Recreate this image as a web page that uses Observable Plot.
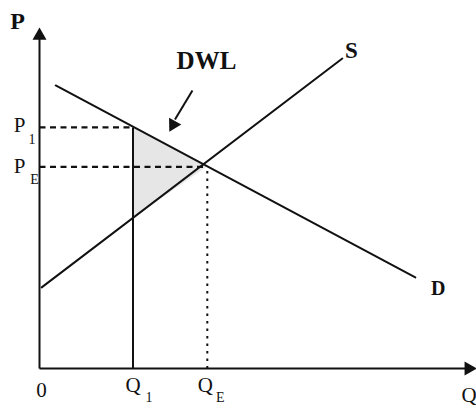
<!DOCTYPE html>
<html><head><meta charset="utf-8">
<script src="https://cdn.jsdelivr.net/npm/d3@7"></script>
<script src="https://cdn.jsdelivr.net/npm/@observablehq/plot@0.6"></script>
<style>body{margin:0;background:#fff} #chart svg{display:block}</style>
</head><body><div id="chart"></div>
<script>
// Curves (quantity q, price p)
const supply = [{q: 0.5, p: 23.8}, {q: 69.3, p: 90.9}];
const demand = [{q: 3.7, p: 83.0}, {q: 86.0, p: 26.7}];
// Key levels
const Q1 = 21.4, QE = 38.4;
const P1 = 70.7, PE = 59.1, PS1 = 44.0;
// Dead-weight-loss triangle (as area between bounds)
const dwlArea = [{q: Q1, lo: PS1, hi: P1}, {q: QE, lo: PE, hi: PE}];
// Axes
const axes = [{q1: 0, p1: 0, q2: 0, p2: 97}, {q1: 0, p1: 0, q2: 98.5, p2: 0}];
const axisHeads = [{q: 0, p: 97.6, rot: 0}, {q: 98.2, p: 0, rot: 90}];
// DWL pointer
const pointer = [{q1: 35.0, p1: 81.5, q2: 31.0, p2: 73.0}];
const pointerHead = [{q: 30.6, p: 71.5, rot: 208.8}];
// Guide lines
const dashedH = [{q1: 0, q2: Q1, p: P1}, {q1: 0, q2: QE, p: PE}];
const solidV = [{q: Q1, p1: 0, p2: P1}];
const dottedV = [{q: QE, p1: 0, p2: PE}];
// Labels
const mainLabels = [
  {q: 0, p: P1, t: "P", dx: -20, dy: -2},
  {q: 0, p: PE, t: "P", dx: -20, dy: -1},
  {q: 0, p: 0, t: "0", dx: 2, dy: 22},
  {q: Q1, p: 0, t: "Q", dx: 0, dy: 17},
  {q: QE, p: 0, t: "Q", dx: -2, dy: 17}
];
const subLabels = [
  {q: 0, p: P1, t: "1", dx: -7.5, dy: 12},
  {q: 0, p: PE, t: "E", dx: -5, dy: 13},
  {q: Q1, p: 0, t: "1", dx: 16, dy: 29},
  {q: QE, p: 0, t: "E", dx: 13, dy: 29}
];
const boldLabels = [
  {q: 0, p: 100, t: "P", dx: -22, dy: -6, size: 24},
  {q: 69.3, p: 90.9, t: "S", dx: 9, dy: -8, size: 23},
  {q: 86.0, p: 26.7, t: "D", dx: 23, dy: 11, size: 20},
  {q: 38.2, p: 90.3, t: "DWL", dx: 0, dy: 0, size: 25}
];
const endLabel = [{q: 100, p: 0, t: "Q", dx: -15, dy: 27}];

const font = "Liberation Serif, Times New Roman, serif";
const ink = "#111";

const textMarks = (arr, opts) => arr.map(d =>
  Plot.text([d], {x: "q", y: "p", text: "t", dx: d.dx, dy: d.dy, fill: ink, fontFamily: font,
    ...opts, ...(d.size ? {fontSize: d.size} : {})}));

const chart = Plot.plot({
  width: 476, height: 405,
  marginLeft: 39, marginRight: 0, marginTop: 27, marginBottom: 37,
  x: {domain: [0, 100], axis: null},
  y: {domain: [0, 100], axis: null},
  style: {fontFamily: font, background: "#fff"},
  marks: [
    Plot.areaY(dwlArea, {x: "q", y1: "lo", y2: "hi", fill: "#e6e6e6"}),
    Plot.link(dashedH, {x1: "q1", x2: "q2", y1: "p", y2: "p", stroke: ink, strokeWidth: 2.2, strokeDasharray: "6,4.5"}),
    Plot.link(dottedV, {x1: "q", x2: "q", y1: "p1", y2: "p2", stroke: ink, strokeWidth: 2, strokeDasharray: "2.5,5"}),
    Plot.link(solidV, {x1: "q", x2: "q", y1: "p1", y2: "p2", stroke: ink, strokeWidth: 2}),
    Plot.line(supply, {x: "q", y: "p", stroke: ink, strokeWidth: 2}),
    Plot.line(demand, {x: "q", y: "p", stroke: ink, strokeWidth: 2}),
    Plot.link(axes, {x1: "q1", y1: "p1", x2: "q2", y2: "p2", stroke: ink, strokeWidth: 2}),
    Plot.dot(axisHeads, {x: "q", y: "p", symbol: "triangle", r: 5.2, fill: ink, stroke: "none", rotate: "rot"}),
    Plot.link(pointer, {x1: "q1", y1: "p1", x2: "q2", y2: "p2", stroke: ink, strokeWidth: 2}),
    Plot.dot(pointerHead, {x: "q", y: "p", symbol: "triangle", r: 5.2, fill: ink, stroke: "none", rotate: "rot"}),
    ...textMarks(mainLabels, {fontSize: 21}),
    ...textMarks(subLabels, {fontSize: 14}),
    ...textMarks(boldLabels, {fontSize: 21, fontWeight: "bold"}),
    ...textMarks(endLabel, {fontSize: 21, textAnchor: "start"})
  ]
});
document.getElementById("chart").appendChild(chart);
</script>
</body></html>
